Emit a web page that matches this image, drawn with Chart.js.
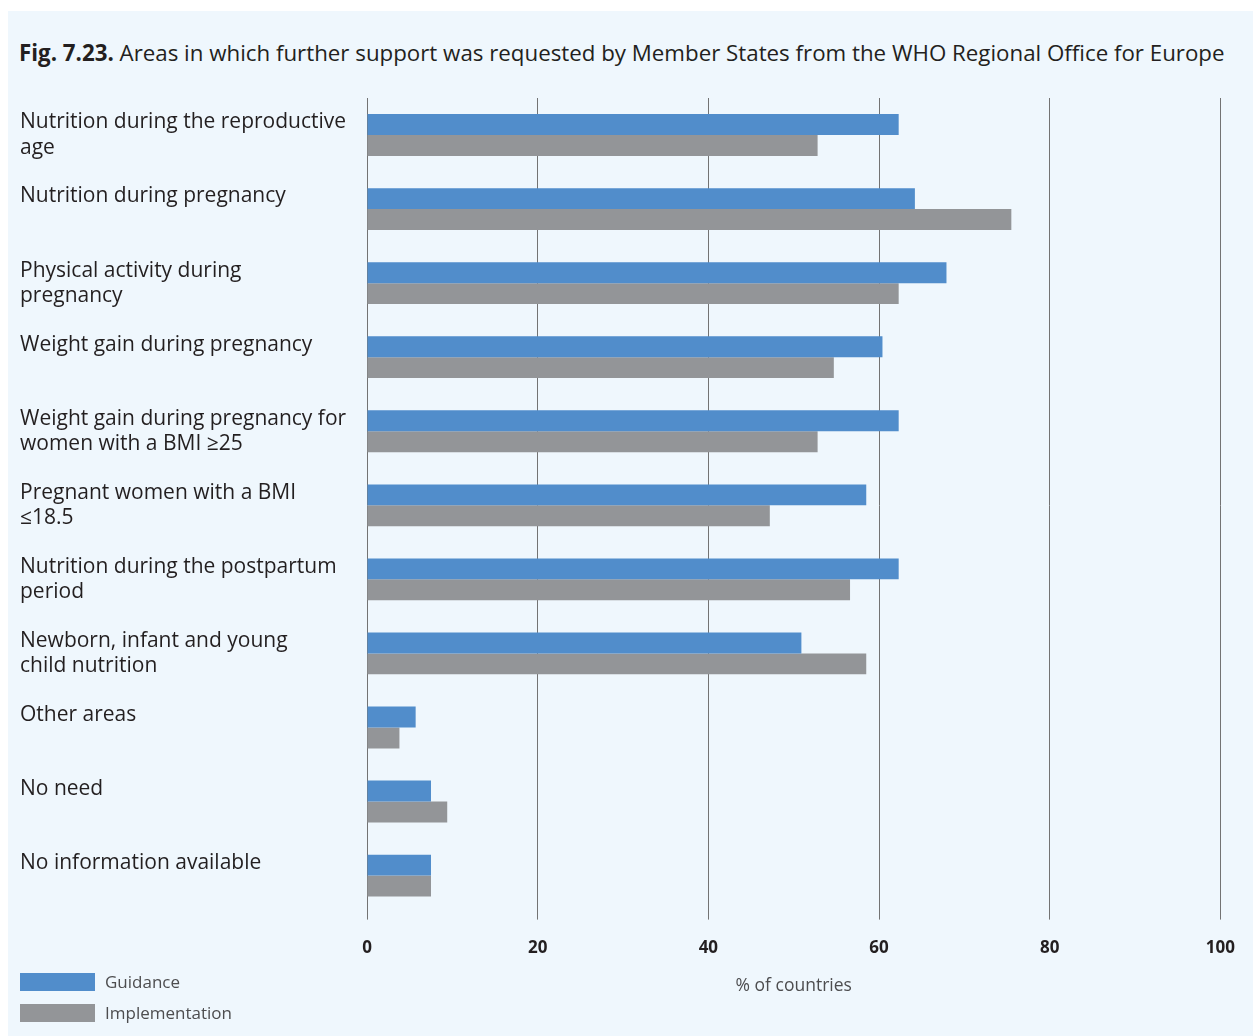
<!DOCTYPE html>
<html>
<head>
<meta charset="utf-8">
<script src="https://cdn.jsdelivr.net/npm/chart.js@4"></script>
<style>
  body { margin: 0; background: #fff; }
  #page { position: relative; width: 1253px; height: 1036px; overflow: hidden; }
  #panel { position: absolute; left: 8px; top: 11px; right: 0; bottom: 0; background: #eff7fd; }
  #title { position: absolute; left: 19px; top: 37px; font: 22.3px "Open Sans", sans-serif;
           color: #231f20; white-space: nowrap; }
  #chartBox { position: absolute; left: 0; top: 0; width: 1253px; height: 1036px; }
  #legend { position: absolute; left: 20px; top: 966px; font: 17px "Open Sans", sans-serif; color: #4d4d4f; }
  .item { display: flex; align-items: center; height: 31px; }
  .swatch { width: 75px; height: 18px; margin-right: 10px; }
</style>
</head>
<body>
<div id="page">
  <div id="panel"></div>
  <div id="title"><b>Fig. 7.23.</b> Areas in which further support was requested by Member States from the WHO Regional Office for Europe</div>
  <div id="chartBox"><canvas id="myChart"></canvas></div>
  <div id="legend"></div>
</div>
<script>
// % of countries (out of 53 Member States)
var categories = [
    ['Nutrition during the reproductive', 'age'],
    ['Nutrition during pregnancy', ''],
    ['Physical activity during', 'pregnancy'],
    ['Weight gain during pregnancy', ''],
    ['Weight gain during pregnancy for', 'women with a BMI \u226525'],
    ['Pregnant women with a BMI', '\u226418.5'],
    ['Nutrition during the postpartum', 'period'],
    ['Newborn, infant and young', 'child nutrition'],
    ['Other areas', ''],
    ['No need', ''],
    ['No information available', '']
];
var guidance = [62.3, 64.2, 67.9, 60.4, 62.3, 58.5, 62.3, 50.9, 5.7, 7.5, 7.5];
var implementation = [52.8, 75.5, 62.3, 54.7, 52.8, 47.2, 56.6, 58.5, 3.8, 9.4, 7.5];
var xTicks = [0, 20, 40, 60, 80, 100];

var blue = '#518dcb';
var grey = '#939598';

var ctx = document.getElementById('myChart').getContext('2d');
var myChart = new Chart(ctx, {
    type: 'bar',
    data: {
        labels: categories,
        datasets: [{
            label: 'Guidance',
            data: guidance,
            backgroundColor: blue,
            categoryPercentage: 0.565,
            barPercentage: 1.0
        },
        {
            label: 'Implementation',
            data: implementation,
            backgroundColor: grey,
            categoryPercentage: 0.565,
            barPercentage: 1.0
        }]
    },
    options: {
        indexAxis: 'y',
        responsive: true,
        maintainAspectRatio: false,
        animation: false,
        layout: {
            padding: {top: 98, left: 20, right: 32, bottom: 35}
        },
        plugins: {
            legend: {display: false},
            tooltip: {enabled: false}
        },
        scales: {
            x: {
                min: 0,
                max: 100,
                afterBuildTicks: function(scale) {
                    scale.ticks = xTicks.map(function(v) { return {value: v}; });
                },
                grid: {color: '#737373', lineWidth: 1, tickLength: 7},
                border: {display: false},
                ticks: {
                    padding: 18,
                    color: '#231f20',
                    font: {family: 'Open Sans', size: 17, weight: 'bold'}
                },
                title: {
                    display: true,
                    text: '% of countries',
                    color: '#4d4d4f',
                    padding: {top: 0, bottom: 4},
                    font: {family: 'Open Sans', size: 17.5}
                }
            },
            y: {
                afterFit: function(scale) { scale.width = 347; },
                grid: {display: false},
                border: {display: false},
                ticks: {
                    crossAlign: 'far',
                    color: '#231f20',
                    font: {family: 'Open Sans', size: 21, lineHeight: 1.2}
                }
            }
        }
    }
});

var legendBox = document.getElementById('legend');
myChart.data.datasets.forEach(function(ds) {
    var row = document.createElement('div');
    row.className = 'item';
    var sw = document.createElement('span');
    sw.className = 'swatch';
    sw.style.background = ds.backgroundColor;
    row.appendChild(sw);
    row.appendChild(document.createTextNode(ds.label));
    legendBox.appendChild(row);
});
</script>
</body>
</html>
